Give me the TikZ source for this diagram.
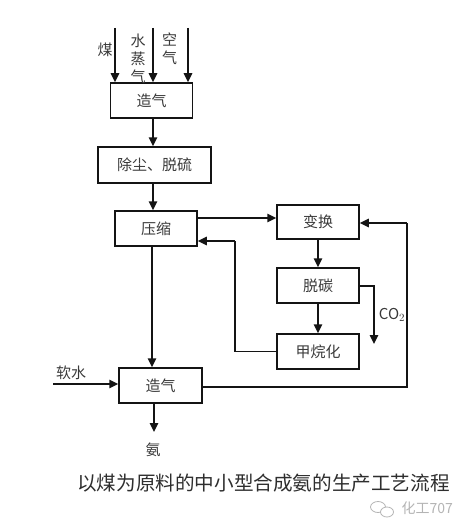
\documentclass[tikz,border=0pt]{standalone}
\usepackage{fontspec}
\setmainfont{Noto Sans CJK SC}
\usetikzlibrary{arrows.meta,calc,positioning}
\definecolor{FlowInk}{HTML}{141414}
\definecolor{FlowText}{HTML}{3A3A3A}
\definecolor{FlowMark}{HTML}{B4B4B4}
\tikzset{
  every node/.style={text=FlowText, font=\fontsize{15}{18}\selectfont},
  unit/.style={draw=FlowInk, line width=1.5pt, fill=white, minimum width=82pt, minimum height=35pt, inner sep=0pt},
  flow/.style={-{Triangle[length=9pt,width=8.5pt]}, draw=FlowInk, line width=1.6pt},
  pipe/.style={draw=FlowInk, line width=1.3pt},
}

\begin{document}
\begin{tikzpicture}[x=1pt,y=-1pt]
  \useasboundingbox (0,0) rectangle (468,532);
  % Process units
  \node[unit] (gas) at (151.5,100.5) {造气};
  \node[unit, minimum width=113pt, minimum height=36pt] (dust) at (154.5,165) {除尘、脱硫};
  \node[unit] (comp) at (156,228.5) {压缩};
  \node[unit, minimum height=34pt] (shift) at (318,222) {变换};
  \node[unit] (decarb) at (318,285.5) {脱碳};
  \node[unit] (meth) at (318,351.5) {甲烷化};
  \node[unit, minimum width=83pt] (synth) at (160.5,385.5) {造气};
  % Feed streams
  \coordinate (coal) at (115,28);
  \coordinate (steam) at (153,28);
  \coordinate (air) at (188,28);
  \draw[flow] (coal) -- (coal |- gas.north);
  \draw[flow] (steam) -- (steam |- gas.north);
  \draw[flow] (air) -- (air |- gas.north);
  \node (coallbl) at (105,50) {煤};
  \node[align=center, inner sep=0pt] (steamlbl) at (138,59) {水\\蒸\\气};
  \node[align=center, inner sep=0pt] (airlbl) at (169.5,49) {空\\气};
  % Main line
  \draw[flow] ([xshift=1.5pt]gas.south) -- ([xshift=1.5pt]gas.south |- dust.north);
  \draw[flow] ([xshift=-1.5pt]dust.south) -- ([xshift=-1.5pt]dust.south |- comp.north);
  \draw[flow] ([yshift=10.5pt]comp.east) -- ([yshift=10.5pt]comp.east -| shift.west);
  \draw[flow] (shift.south) -- (decarb.north);
  \draw[flow] (decarb.south) -- (meth.north);
  \draw[flow] ([xshift=-4pt]comp.south) -- ([xshift=-4pt]comp.south |- synth.north);
  % Recycle to compression
  \coordinate (ret) at (235,241);
  \draw[pipe] (meth.west) -| (ret);
  \draw[flow] (ret) -- (ret -| comp.east);
  % CO2 off-gas
  \coordinate (co2end) at (374,344);
  \draw[flow] ([yshift=-0.5pt]decarb.east) -| (co2end);
  \node (co2lbl) at (392,315) {CO$_2$};
  % Loop from synthesis back to shift
  \coordinate (loop) at (407,223);
  \draw[pipe] ([yshift=-1.5pt]synth.east) -| (loop);
  \draw[flow] (loop) -- (loop -| shift.east);
  % Soft water and product
  \coordinate (soft) at (53,384);
  \draw[flow] (soft) -- (soft -| synth.west);
  \node (softlbl) at (71,373) {软水};
  \coordinate (nh3) at (154,432);
  \draw[flow] (nh3 |- synth.south) -- (nh3);
  \node (nh3lbl) at (153,450) {氨};
  % Caption and mark
  \node[font=\fontsize{19.6}{22}\selectfont, text=FlowText!80!black] (caption) at (263.5,483) {以煤为原料的中小型合成氨的生产工艺流程};
  \draw[FlowMark, line width=0.8pt, fill=white] (378,507) ellipse (7.5 and 5.5);
  \draw[FlowMark, line width=0.8pt, fill=white] (387,512) ellipse (6.5 and 5);
  \node[font=\fontsize{14}{16}\selectfont, text=FlowMark, anchor=west] (mark) at (398,508) {化工707};
\end{tikzpicture}
\end{document}
